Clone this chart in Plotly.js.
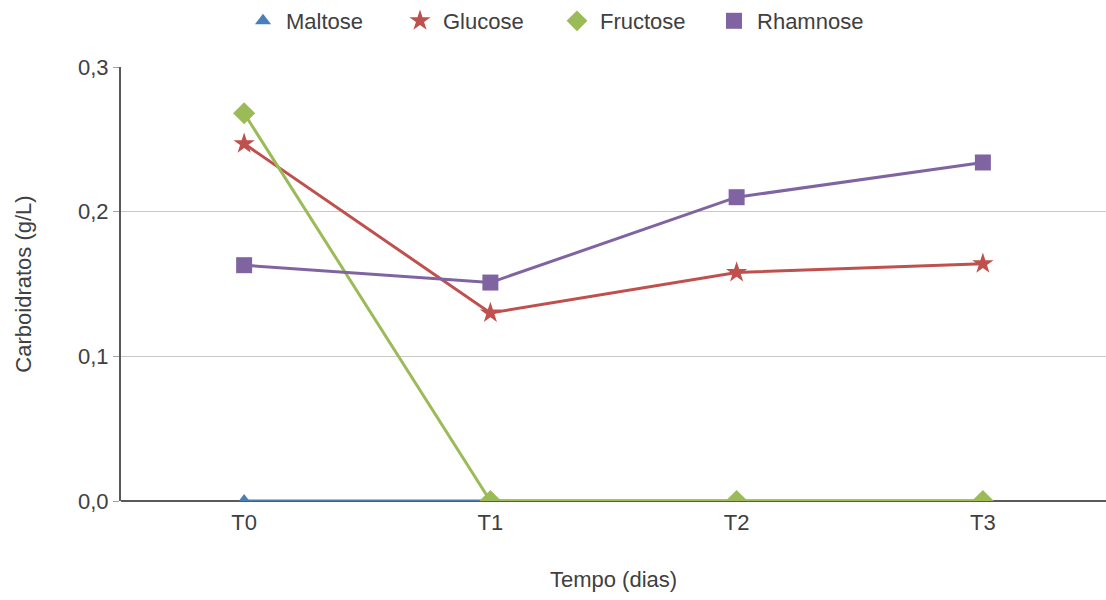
<!DOCTYPE html>
<html>
<head>
<meta charset="utf-8">
<script src="https://cdn.plot.ly/plotly-3.0.1.min.js"></script>
<style>html,body{margin:0;padding:0;background:#fff;}#chart{width:1106px;height:600px;}</style>
</head>
<body>
<div id="chart"></div>
<script>
const categories = ["T0", "T1", "T2", "T3"];
const maltose = [0, 0, 0, 0];
const glucose = [0.247, 0.130, 0.158, 0.164];
const fructose = [0.268, 0, 0, 0];
const rhamnose = [0.163, 0.151, 0.210, 0.234];
const yTicks = [0, 0.1, 0.2, 0.3];

const font = "Liberation Sans, Arial, sans-serif";
const txt = "#404040";
const series = [
  {name: "Maltose", y: maltose, color: "#4A7EBB", symbol: "triangle-up", size: 14},
  {name: "Glucose", y: glucose, color: "#C0504D", symbol: "star", size: 16},
  {name: "Fructose", y: fructose, color: "#9BBB59", symbol: "diamond", size: 17},
  {name: "Rhamnose", y: rhamnose, color: "#8064A2", symbol: "square", size: 16}
];
const data = [];
series.forEach(s => {
  data.push({
    type: "scatter", mode: "lines", name: s.name, showlegend: false,
    x: categories, y: s.y, line: {color: s.color, width: 3}, cliponaxis: true, legendgroup: s.name
  });
  data.push({
    type: "scatter", mode: "markers", name: s.name, showlegend: true,
    x: categories, y: s.y, marker: {color: s.color, symbol: s.symbol, size: s.size},
    cliponaxis: true, legendgroup: s.name
  });
});
const layout = {
  width: 1106, height: 600,
  margin: {l: 121, r: 0, t: 67, b: 99},
  paper_bgcolor: "#fff", plot_bgcolor: "#fff",
  separators: ",.",
  font: {family: font, size: 22, color: txt},
  showlegend: true,
  legend: {orientation: "h", x: 0.217, xanchor: "left", xref: "container", y: 1, yref: "container", yanchor: "top",
           font: {size: 22, color: txt}, itemwidth: 36, tracegroupgap: 0,
           entrywidth: 106, entrywidthmode: "pixels"},
  xaxis: {
    type: "category", range: [-0.5, 3.5],
    showgrid: false, zeroline: false, showline: false, ticks: "",
    ticklabelstandoff: 6,
    tickfont: {size: 22, color: txt},
    title: {text: "Tempo (dias)", font: {size: 22, color: txt}, standoff: 37}
  },
  yaxis: {
    range: [0, 0.3], tickvals: yTicks, tickformat: ".1f",
    showgrid: true, gridcolor: "#C8C8C8", gridwidth: 1,
    zeroline: true, zerolinecolor: "#595959", zerolinewidth: 2,
    showline: true, linecolor: "#595959", linewidth: 2,
    ticks: "outside", ticklen: 6, tickcolor: "#A0A0A0",
    tickfont: {size: 22, color: txt},
    title: {text: "Carboidratos (g/L)", font: {size: 22, color: txt}, standoff: 40}
  }
};
Plotly.newPlot("chart", data, layout, {displayModeBar: false, responsive: false});
</script>
</body>
</html>
